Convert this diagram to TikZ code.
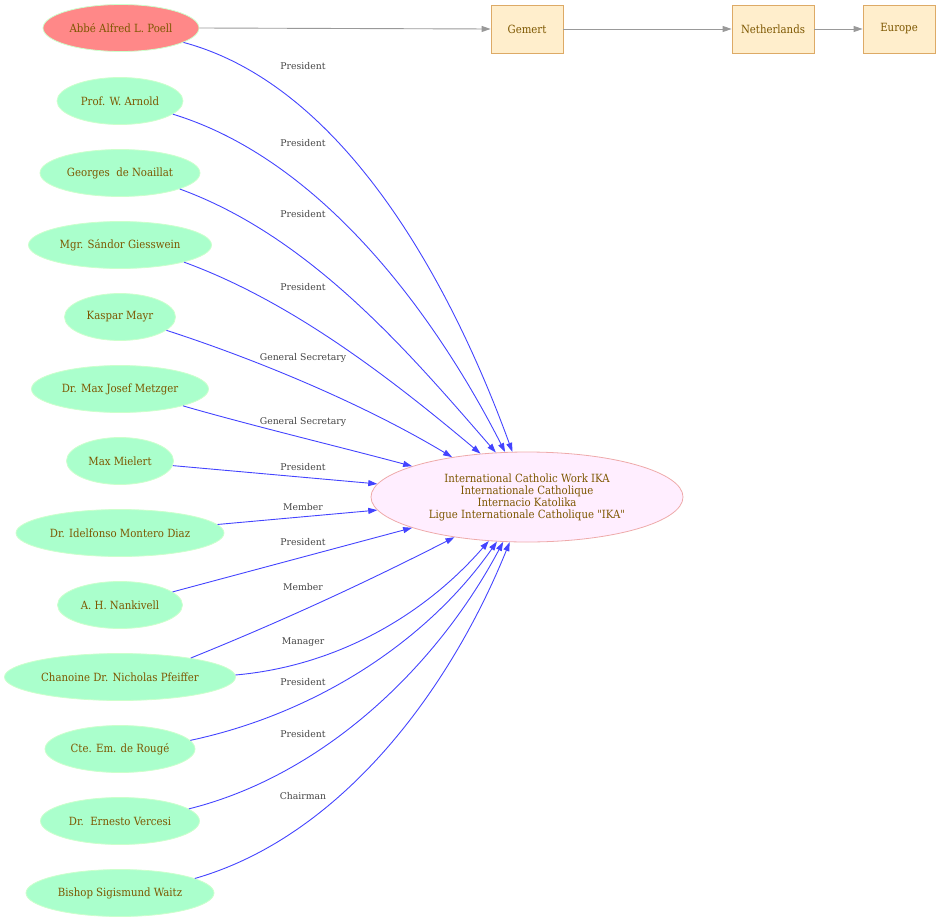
\documentclass[tikz,border=0pt]{standalone}
\usepackage{fontspec}
\setmainfont{DejaVu Serif Condensed}
\newfontfamily\labfont{DejaVu Serif}
\newfontfamily\qfont{DejaVu Serif Condensed}[Ligatures=TeXOff]
\usetikzlibrary{arrows.meta,shapes.geometric}
\definecolor{txt}{HTML}{7D5700}
\definecolor{greenfill}{HTML}{AAFFCC}
\definecolor{greenline}{HTML}{CCFFCC}
\definecolor{redfill}{HTML}{FF8888}
\definecolor{ikafill}{HTML}{FFEEFF}
\definecolor{ikaline}{HTML}{EEAAAA}
\definecolor{boxfill}{HTML}{FFEECC}
\definecolor{boxline}{HTML}{DDAA66}
\definecolor{greyedge}{HTML}{999999}
\definecolor{blueedge}{HTML}{4444FF}
\definecolor{labtxt}{HTML}{444444}
\tikzset{
  person/.style={ellipse, draw=greenline, fill=greenfill, line width=0.8pt, inner sep=0pt,
    minimum height=47pt, text=txt, font=\fontsize{11.3}{12}\selectfont},
  founder/.style={person, fill=redfill},
  org/.style={ellipse, draw=ikaline, fill=ikafill, line width=0.8pt, inner sep=0pt,
    minimum width=312pt, minimum height=90pt, text=txt, align=center,
    font=\fontsize{11.3}{12}\selectfont},
  place/.style={rectangle, draw=boxline, fill=boxfill, line width=0.8pt, inner sep=0pt,
    minimum height=48pt, text=txt, font=\fontsize{11.3}{12}\selectfont},
  elabel/.style={text=labtxt, inner sep=0pt, font=\labfont\fontsize{9.3}{10}\selectfont},
  geo/.style={draw=greyedge, line width=0.9pt, -{Triangle[length=9pt,width=6pt]}},
  role/.style={draw=blueedge, line width=0.9pt, -{Triangle[length=9pt,width=6pt]}},
}
\begin{document}
\begin{tikzpicture}[x=1pt,y=1pt]
\useasboundingbox (0,0) rectangle (941,-923);
% organisation
\node[org] (ika) at (527,-497) {International Catholic Work IKA\\Internationale Catholique\\Internacio Katolika\\Ligue Internationale Catholique {\qfont "IKA"}};
% places
\node[place, minimum width=72pt] (gemert) at (527,-29) {Gemert};
\node[place, minimum width=82pt] (nl) at (773,-29) {Netherlands};
\node[place, minimum width=72pt] (europe) at (899,-29) {Europe};
% persons
\node[founder, minimum width=156pt] (abbe) at (121,-28) {Abbé Alfred L. Poell};
\node[person, minimum width=126pt] (arnold) at (120,-101) {Prof. W. Arnold};
\node[person, minimum width=160pt] (noaillat) at (120,-173) {Georges\ \ de Noaillat};
\node[person, minimum width=183pt] (giesswein) at (120,-245) {Mgr. Sándor Giesswein};
\node[person, minimum width=111pt] (mayr) at (120,-317) {Kaspar Mayr};
\node[person, minimum width=177pt] (metzger) at (120,-389) {Dr. Max Josef Metzger};
\node[person, minimum width=107pt] (mielert) at (120,-461) {Max Mielert};
\node[person, minimum width=208pt] (montero) at (120,-533) {Dr. Idelfonso Montero Diaz};
\node[person, minimum width=125pt] (nankivell) at (120,-605) {A. H. Nankivell};
\node[person, minimum width=231pt] (pfeiffer) at (120,-677) {Chanoine Dr. Nicholas Pfeiffer};
\node[person, minimum width=150pt] (rouge) at (120,-749) {Cte. Em. de Rougé};
\node[person, minimum width=159pt] (vercesi) at (120,-821) {Dr.\ \ Ernesto Vercesi};
\node[person, minimum width=188pt] (waitz) at (120,-893) {Bishop Sigismund Waitz};
% edge labels
\node[elabel] (l1) at (303,-66) {President};
\node[elabel] (l2) at (303,-143) {President};
\node[elabel] (l3) at (303,-214) {President};
\node[elabel] (l4) at (303,-287) {President};
\node[elabel] (l5) at (303,-358) {General Secretary};
\node[elabel] (l6) at (303,-422) {General Secretary};
\node[elabel] (l7) at (303,-467) {President};
\node[elabel] (l8) at (303,-507) {Member};
\node[elabel] (l9) at (303,-542) {President};
\node[elabel] (l10) at (303,-587) {Member};
\node[elabel] (l11) at (303,-642) {Manager};
\node[elabel] (l12) at (303,-682) {President};
\node[elabel] (l13) at (303,-734) {President};
\node[elabel] (l14) at (303,-796) {Chairman};
% geography
\draw[geo] (abbe.east) -- (gemert.west);
\draw[geo] (gemert.east) -- (nl.west);
\draw[geo] (nl.east) -- (europe.west);
% roles
\draw[role] (abbe.-13) .. controls +(-15:170pt) and +(110:170pt) .. (ika.108);
\draw[role] (arnold.-14) .. controls +(-17:155pt) and +(117:155pt) .. (ika.116);
\draw[role] (noaillat.-15) .. controls +(-20:140pt) and +(131:130pt) .. (ika.125);
\draw[role] (giesswein.-15) .. controls +(-20:115pt) and +(140:115pt) .. (ika.137);
\draw[role] (mayr.-16) .. controls +(-18:100pt) and +(149:100pt) .. (ika.152);
\draw[role] (metzger.-15) .. controls +(-16:75pt) and +(165:75pt) .. (ika.165);
\draw[role] (mielert.-5) -- (ika.175);
\draw[role] (montero.5) -- (ika.185);
\draw[role] (nankivell.14) -- (ika.195);
\draw[role] (pfeiffer.15.5) .. controls +(22:100pt) and +(207:100pt) .. (ika.209);
\draw[role] (pfeiffer.1) .. controls +(5:100pt) and +(229:100pt) .. (ika.229);
\draw[role] (rouge.7) .. controls +(12:125pt) and +(235:125pt) .. (ika.236);
\draw[role] (vercesi.10) .. controls +(14:140pt) and +(242:140pt) .. (ika.242);
\draw[role] (waitz.11) .. controls +(16:155pt) and +(248:155pt) .. (ika.249);
\end{tikzpicture}
\end{document}
